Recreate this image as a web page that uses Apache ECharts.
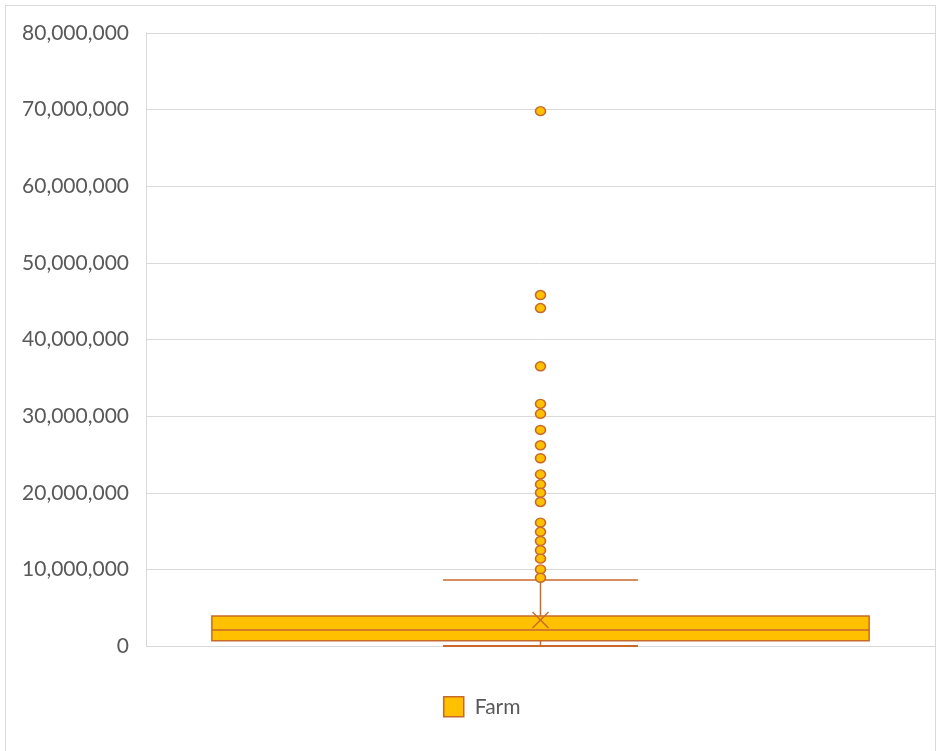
<!DOCTYPE html>
<html><head><meta charset="utf-8">
<script src="https://cdn.jsdelivr.net/npm/echarts@6/dist/echarts.min.js"></script>
<style>
html,body{margin:0;padding:0;background:#fff;}
#frame{position:absolute;left:5px;top:5px;width:931px;height:760px;border:1px solid #d9d9d9;box-sizing:border-box;}
#chart{position:absolute;left:0;top:0;width:941px;height:751px;}
</style></head>
<body><div id="frame"></div><div id="chart"></div>
<script>
const categories = ['Farm'];
// [min, Q1, median, Q3, max]
const boxStats = [0, 700000, 2100000, 3900000, 8600000];
const meanValue = 3400000;
const outliers = [69800000, 45800000, 44100000, 36500000, 31600000, 30300000, 28200000, 26200000, 24500000, 22400000, 21100000, 20000000, 18800000, 16100000, 14900000, 13700000, 12500000, 11400000, 10000000, 8900000];
const yTicks = [0, 80000000, 10000000];

const fill = '#FFC000';
const edge = '#C8692A';
const chart = echarts.init(document.getElementById('chart'));
const boxData = [[0].concat(boxStats).concat([meanValue])];
chart.setOption({
  animation:false,
  grid:{left:146,right:6,top:33,bottom:105},
  legend:{top:696,left:443,padding:0,itemWidth:20,itemHeight:20,
    textStyle:{fontFamily:'Lato',fontSize:21,color:'#595959',padding:[0,0,0,6]},
    data:[{name:'Farm',icon:'rect',itemStyle:{color:fill,borderColor:edge,borderWidth:1.5}}]},
  xAxis:{type:'category',data:categories,axisLine:{show:false},axisTick:{show:false},axisLabel:{show:false},splitLine:{show:false}},
  yAxis:{type:'value',min:yTicks[0],max:yTicks[1],interval:yTicks[2],
    axisLine:{show:true,lineStyle:{color:'#d9d9d9'}},axisTick:{show:false},
    splitLine:{lineStyle:{color:'#d9d9d9',width:1}},
    axisLabel:{fontFamily:'Lato',fontSize:21,color:'#595959',margin:17,
      formatter:v=>v.toLocaleString('en-US')}},
  series:[
    {name:'Farm',type:'custom',data:boxData,z:2,
     renderItem:function(params,api){
       const x=api.value(0);
       const w=api.size([1,0])[0];
       const bw=w*0.833, cw=w*0.247;
       const pMin=api.coord([x,api.value(1)]);
       const pQ1=api.coord([x,api.value(2)]);
       const pMed=api.coord([x,api.value(3)]);
       const pQ3=api.coord([x,api.value(4)]);
       const pMax=api.coord([x,api.value(5)]);
       const pMean=api.coord([x,api.value(6)]);
       const cx=pMed[0];
       const ls={stroke:edge,lineWidth:1.5};
       const m=8;
       return {type:'group',children:[
         {type:'line',shape:{x1:cx,y1:pQ3[1],x2:cx,y2:pMax[1]},style:ls},
         {type:'line',shape:{x1:cx,y1:pQ1[1],x2:cx,y2:pMin[1]},style:ls},
         {type:'line',shape:{x1:cx-cw/2,y1:pMax[1],x2:cx+cw/2,y2:pMax[1]},style:ls},
         {type:'line',shape:{x1:cx-cw/2,y1:pMin[1],x2:cx+cw/2,y2:pMin[1]},style:{stroke:edge,lineWidth:2}},
         {type:'rect',shape:{x:cx-bw/2,y:pQ3[1],width:bw,height:pQ1[1]-pQ3[1]},style:{fill:fill,stroke:edge,lineWidth:1.5}},
         {type:'line',shape:{x1:cx-bw/2,y1:pMed[1],x2:cx+bw/2,y2:pMed[1]},style:ls},
         {type:'line',shape:{x1:cx-m,y1:pMean[1]-m,x2:cx+m,y2:pMean[1]+m},style:ls},
         {type:'line',shape:{x1:cx-m,y1:pMean[1]+m,x2:cx+m,y2:pMean[1]-m},style:ls}
       ]};
     }},
    {name:'Outliers',type:'scatter',z:3,symbol:'circle',symbolSize:[10,9],
     data:outliers.map(v=>[categories[0],v]),
     itemStyle:{color:fill,borderColor:edge,borderWidth:1.5,opacity:1}}
  ]
});
</script></body></html>
